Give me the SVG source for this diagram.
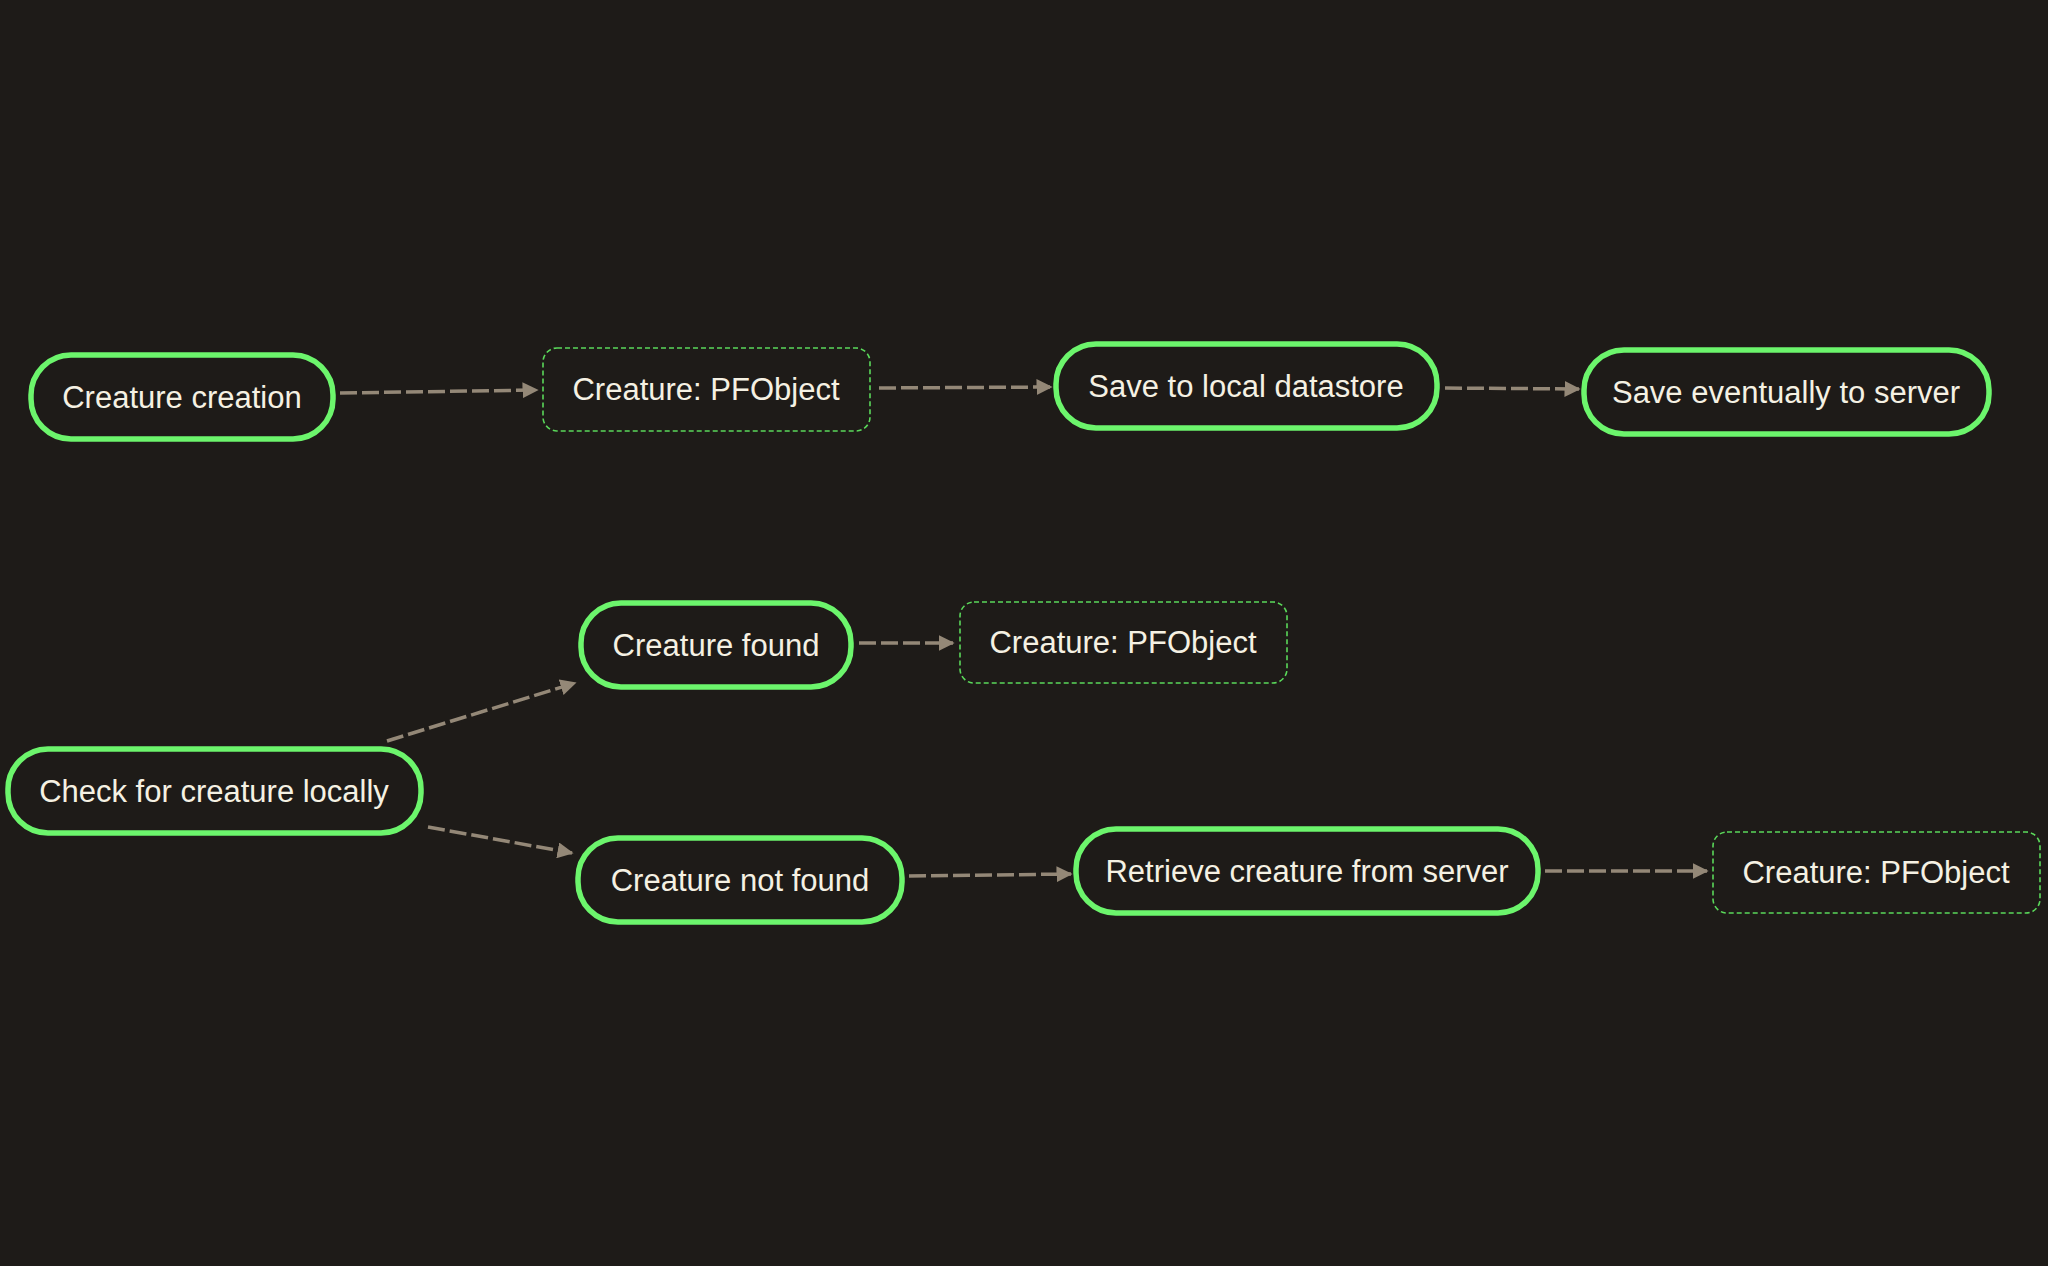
<svg xmlns="http://www.w3.org/2000/svg" width="2048" height="1266" viewBox="0 0 2048 1266">
<defs>
<style>
.bg{fill:#1e1b18}
.n rect{fill:#1e1b18;stroke:#6cf56c;stroke-width:5.5}
.d rect{fill:#1e1b18;stroke:#5ad85a;stroke-width:1.6;stroke-dasharray:5 3}
text{font-family:"Liberation Sans",Arial,sans-serif;font-size:31px;fill:#f5f1e3;text-anchor:middle;dominant-baseline:central}
.e path{fill:none;stroke:#948877;stroke-width:3.5;stroke-dasharray:17 5;marker-end:url(#ah)}
</style>
<marker id="ah" viewBox="0 0 10 10" refX="9" refY="5" markerWidth="4.6" markerHeight="4.6" orient="auto" markerUnits="strokeWidth">
<path d="M0,0 L10,5 L0,10 z" fill="#948877"/>
</marker>
</defs>
<rect class="bg" x="0" y="0" width="2048" height="1266"/>
<g id="connectors" class="e">
<path d="M340,393 L537,390"/>
<path d="M879,388 L1051,387"/>
<path d="M1445,388 L1579,389"/>
<path d="M387,741 L575,683"/>
<path d="M428,827 L572,853"/>
<path d="M859,643 L953,643"/>
<path d="M909,876 L1071,874"/>
<path d="M1545,871 L1707,871"/>
</g>
<g id="n1" class="n"><rect x="31" y="355" width="302" height="84" rx="40"/><text x="182" y="397">Creature creation</text></g>
<g id="n2" class="d"><rect x="543" y="348" width="327" height="83" rx="14"/><text x="706" y="389">Creature: PFObject</text></g>
<g id="n3" class="n"><rect x="1056" y="344" width="381" height="84" rx="40"/><text x="1246" y="386">Save to local datastore</text></g>
<g id="n4" class="n"><rect x="1584" y="350" width="405" height="84" rx="40"/><text x="1786" y="392">Save eventually to server</text></g>
<g id="n5" class="n"><rect x="581" y="603" width="270" height="84" rx="40"/><text x="716" y="645">Creature found</text></g>
<g id="n6" class="d"><rect x="960" y="602" width="327" height="81" rx="14"/><text x="1123" y="642">Creature: PFObject</text></g>
<g id="n7" class="n"><rect x="8" y="749" width="413" height="84" rx="40"/><text x="214" y="791">Check for creature locally</text></g>
<g id="n8" class="n"><rect x="578" y="838" width="324" height="84" rx="40"/><text x="740" y="880">Creature not found</text></g>
<g id="n9" class="n"><rect x="1076" y="829" width="462" height="84" rx="40"/><text x="1307" y="871">Retrieve creature from server</text></g>
<g id="n10" class="d"><rect x="1713" y="832" width="327" height="81" rx="14"/><text x="1876" y="872">Creature: PFObject</text></g>
</svg>
